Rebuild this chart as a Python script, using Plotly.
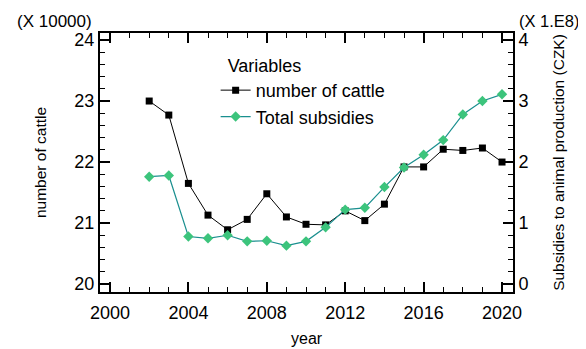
import plotly.graph_objects as go

years = list(range(2002, 2021))
cattle = [23.00, 22.77, 21.65, 21.13, 20.89, 21.06, 21.48, 21.10, 20.98, 20.97,
          21.20, 21.04, 21.31, 21.92, 21.92, 22.21, 22.19, 22.23, 22.00]
subsidies = [1.76, 1.78, 0.78, 0.75, 0.80, 0.70, 0.71, 0.63, 0.70, 0.93,
             1.22, 1.25, 1.59, 1.91, 2.12, 2.36, 2.78, 3.00, 3.11]
x_ticks = [2000, 2004, 2008, 2012, 2016, 2020]
y_left_ticks = [20, 21, 22, 23, 24]
y_right_ticks = [0, 1, 2, 3, 4]

FONT = "Liberation Sans, Arial, sans-serif"

fig = go.Figure()
fig.add_trace(go.Scatter(
    x=years, y=cattle, name="number of cattle", mode="lines+markers",
    line=dict(color="black", width=1),
    marker=dict(symbol="square", size=7, color="black"),
    yaxis="y"))
fig.add_trace(go.Scatter(
    x=years, y=subsidies, name="Total subsidies", mode="lines+markers",
    line=dict(color="#1a8f8f", width=1.2),
    marker=dict(symbol="diamond", size=8, color="#3cc47c"),
    yaxis="y2"))

axis_common = dict(showgrid=False, zeroline=False, linecolor="black", linewidth=2,
                   ticks="inside", ticklen=10, tickwidth=1.5, tickcolor="black",
                   automargin=False,
                   tickfont=dict(family=FONT, size=18, color="black"))

# page body has an 8px margin, so the figure is sized/placed to compensate
fig.update_layout(
    width=578, height=341,
    margin=dict(l=92, r=73, t=25, b=57),
    paper_bgcolor="white", plot_bgcolor="white",
    font=dict(family=FONT, color="black"),
    showlegend=True,
    legend=dict(
        title=dict(text="&nbsp;&nbsp;Variables", font=dict(family=FONT, size=18)),
        font=dict(family=FONT, size=18),
        x=0.28, y=0.94, xanchor="left", yanchor="top",
        bgcolor="rgba(0,0,0,0)", tracegroupgap=0, itemwidth=30,
    ),
    xaxis=dict(
        range=[1999.49, 2020.56], tickvals=x_ticks, mirror="ticks",
        showline=True, ticklabelstandoff=3,
        minor=dict(dtick=1, ticks="inside", ticklen=5, tickcolor="black", tickwidth=1),
        **axis_common),
    yaxis=dict(
        range=[19.87, 24.115], tickvals=y_left_ticks, showline=True,
        minor=dict(dtick=0.2, ticks="inside", ticklen=5, tickcolor="black", tickwidth=1),
        title=dict(text="number of cattle", font=dict(family=FONT, size=15.5), standoff=24),
        **axis_common),
    yaxis2=dict(
        range=[-0.13, 4.115], tickvals=y_right_ticks, overlaying="y", side="right",
        showline=True, anchor="x",
        minor=dict(dtick=0.2, ticks="inside", ticklen=5, tickcolor="black", tickwidth=1),
        title=dict(text="Subsidies to animal production (CZK)", font=dict(family=FONT, size=15.5), standoff=26),
        **axis_common),
    annotations=[
        dict(text="year", xref="paper", yref="paper", x=0.5, y=-0.18,
             xanchor="center", yanchor="middle", showarrow=False,
             font=dict(family=FONT, size=16)),
        dict(text="(X 10000)", xref="paper", yref="paper", x=-0.205, y=1.045,
             xanchor="left", yanchor="middle", showarrow=False,
             font=dict(family=FONT, size=17)),
        dict(text="(X 1.E8)", xref="paper", yref="paper", x=1.01, y=1.045,
             xanchor="left", yanchor="middle", showarrow=False,
             font=dict(family=FONT, size=16.5)),
    ],
)

fig.write_html("out.html")
